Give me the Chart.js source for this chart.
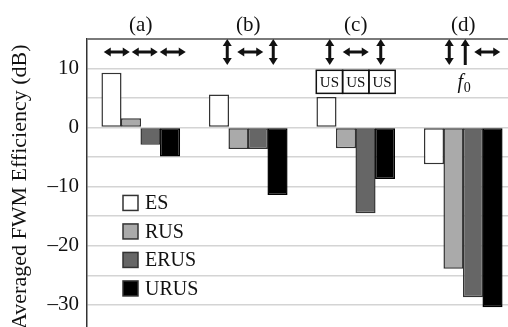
<!DOCTYPE html>
<html>
<head>
<meta charset="utf-8">
<script src="https://cdn.jsdelivr.net/npm/chart.js@4/dist/chart.umd.min.js"></script>
<style>
  html, body { margin: 0; padding: 0; background: #fff; overflow: hidden; }
  #wrap { width: 508px; height: 327px; overflow: hidden; }
</style>
</head>
<body>
<div id="wrap"><canvas id="chart" width="520" height="355"></canvas></div>
<script>
var groups = ['(a)', '(b)', '(c)', '(d)'];
var seriesNames = ['ES', 'RUS', 'ERUS', 'URUS'];
var es = [9.3, 5.6, 5.2, -6.2];
var rus = [1.6, -3.6, -3.5, -23.9];
var erus = [-2.9, -3.6, -14.5, -28.7];
var urus = [-4.9, -11.4, -8.7, -30.4];
var yTicks = [10, 0, -10, -20, -30];
// polarization arrows shown above each group
var arrows = [['h', 'h', 'h'], ['v', 'h', 'v'], ['v', 'h', 'v'], ['v', 'u', 'h']];
var boxLabels = [[], [], ['US', 'US', 'US'], []];
var freqLabel = ['', '', '', 'f0'];

var serif = '"Liberation Serif", "DejaVu Serif", serif';
var fills = ['#ffffff', '#aaaaaa', '#666666', '#000000'];

function drawHead(ctx, x, y, dx, dy) {
  // dx,dy: unit direction the head points to
  var L = 7, W = 4.5;
  ctx.beginPath();
  ctx.moveTo(x, y);
  ctx.lineTo(x - dx * L - dy * W, y - dy * L + dx * W);
  ctx.lineTo(x - dx * L + dy * W, y - dy * L - dx * W);
  ctx.closePath();
  ctx.fill();
}

function drawArrow(ctx, type, cx, cy) {
  var half = 13;
  ctx.beginPath();
  if (type === 'h') {
    ctx.moveTo(cx - half + 5, cy); ctx.lineTo(cx + half - 5, cy);
    ctx.stroke();
    drawHead(ctx, cx - half, cy, -1, 0);
    drawHead(ctx, cx + half, cy, 1, 0);
  } else if (type === 'v') {
    ctx.moveTo(cx, cy - half + 5); ctx.lineTo(cx, cy + half - 5);
    ctx.stroke();
    drawHead(ctx, cx, cy - half, 0, -1);
    drawHead(ctx, cx, cy + half, 0, 1);
  } else {
    ctx.moveTo(cx, cy - half + 5); ctx.lineTo(cx, cy + half);
    ctx.stroke();
    drawHead(ctx, cx, cy - half, 0, -1);
  }
}

var slotOffsets = [[-24, 4, 32], [-21, 2, 25], [-26, 0, 25], [-14, 2, 24]];

var decor = {
  id: 'decor',
  afterDraw: function(chart) {
    var ctx = chart.ctx, xs = chart.scales.x, ys = chart.scales.y, area = chart.chartArea;
    ctx.save();
    ctx.fillStyle = '#111';
    ctx.strokeStyle = '#111';
    ctx.lineWidth = 3;
    ctx.textAlign = 'center';
    ctx.textBaseline = 'middle';
    groups.forEach(function(g, i) {
      var cx = xs.getPixelForValue(i);
      ctx.font = '21px ' + serif;
      ctx.fillText(g, cx, area.top - 14);
      var ay = ys.getPixelForValue(12.8);
      arrows[i].forEach(function(t, k) {
        drawArrow(ctx, t, cx + slotOffsets[i][k], ay);
      });
      if (boxLabels[i].length) {
        var bw = 26.3, top = ys.getPixelForValue(9.7), bot = ys.getPixelForValue(5.8);
        var x0 = cx - bw * boxLabels[i].length / 2;
        ctx.lineWidth = 1.5;
        ctx.font = '15px ' + serif;
        boxLabels[i].forEach(function(lbl, k) {
          ctx.strokeRect(x0 + k * bw, top, bw, bot - top);
          ctx.fillText(lbl, x0 + k * bw + bw / 2, (top + bot) / 2 + 1);
        });
        ctx.lineWidth = 3;
      }
      if (freqLabel[i]) {
        var fy = ys.getPixelForValue(7.6);
        ctx.font = 'italic 20px ' + serif;
        ctx.fillText(freqLabel[i].charAt(0), cx - 3, fy);
        ctx.font = '14px ' + serif;
        ctx.fillText(freqLabel[i].slice(1), cx + 4, fy + 6);
      }
    });
    // legend
    var lx = area.left + 36, ly = ys.getPixelForValue(-12.75);
    ctx.textAlign = 'left';
    ctx.font = '20px ' + serif;
    chart.data.datasets.forEach(function(ds, k) {
      var yy = ly + k * 28.5;
      ctx.fillStyle = ds.backgroundColor;
      ctx.fillRect(lx, yy - 7.5, 15, 15);
      ctx.strokeStyle = '#333';
      ctx.lineWidth = 1.5;
      ctx.strokeRect(lx, yy - 7.5, 15, 15);
      ctx.fillStyle = '#111';
      ctx.fillText(ds.label, lx + 22, yy + 1);
    });
    ctx.restore();
  }
};

var seriesValues = [es, rus, erus, urus];
var ctx = document.getElementById('chart');
var chart = new Chart(ctx, {
  type: 'bar',
  data: {
    labels: groups,
    datasets: seriesNames.map(function(name, k) {
      return {
        label: name,
        data: seriesValues[k],
        backgroundColor: fills[k],
        borderColor: k === 3 ? '#000' : '#333',
        borderWidth: 1.5,
        borderSkipped: false,
        categoryPercentage: 0.726,
        barPercentage: 1.03
      };
    })
  },
  options: {
    responsive: false,
    animation: false,
    layout: { padding: { top: 39, right: 3, bottom: 0, left: 0 } },
    plugins: { legend: { display: false }, tooltip: { enabled: false } },
    scales: {
      x: { display: false },
      y: {
        min: -35,
        max: 15,
        afterFit: function(scale) { scale.width = 87; },
        afterBuildTicks: function(scale) {
          var t = [];
          for (var v = 15; v >= -35; v -= 5) t.push({ value: v });
          scale.ticks = t;
        },
        ticks: {
          padding: 8,
          color: '#111',
          font: { family: serif, size: 21 },
          callback: function(v) {
            if (yTicks.indexOf(v) < 0) return '';
            return v < 0 ? '\u2013' + Math.abs(v) : String(v);
          }
        },
        grid: {
          drawTicks: false,
          color: function(c) { return c.tick && c.tick.value === 15 ? '#7a7a7a' : '#d4d4d4'; },
          lineWidth: function(c) { return c.tick && c.tick.value === 15 ? 2 : 1.5; }
        },
        border: { display: true, color: '#333', width: 1.5 },
        title: {
          display: true,
          text: 'Averaged FWM Efficiency (dB)',
          color: '#111',
          font: { family: serif, size: 22 },
          padding: { top: 7, bottom: 0 }
        }
      }
    }
  },
  plugins: [decor]
});
</script>
</body>
</html>
